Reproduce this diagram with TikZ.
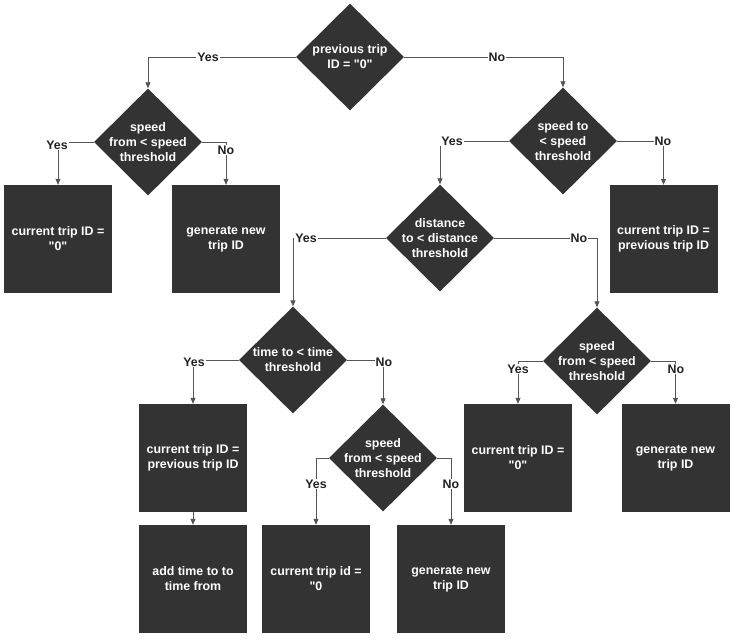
\documentclass[tikz,border=0pt]{standalone}
\usepackage{fontspec}
\setmainfont{Liberation Sans}[Ligatures=TeXOff]
\usetikzlibrary{shapes.geometric,arrows.meta}
\definecolor{boxfill}{HTML}{333333}
\definecolor{linecol}{HTML}{555555}
\definecolor{lblcol}{HTML}{222222}
\newcommand\dqt{\symbol{34}}
\begin{document}
\begin{tikzpicture}[x=1pt,y=-1pt,
  dia/.style={diamond,fill=boxfill,minimum width=108pt,minimum height=107pt,inner sep=0pt},
  dtext/.style={text=white,font=\bfseries\fontsize{12.4}{15}\selectfont,align=center,inner sep=0pt},
  stepbox/.style={rectangle,fill=boxfill,minimum width=108pt,minimum height=108pt,inner sep=0pt,text=white,font=\bfseries\fontsize{12.4}{15}\selectfont,align=center},
  conn/.style={draw=linecol,line width=0.8pt,-{Triangle[length=6pt,width=5pt]}},
  lbl/.style={fill=white,text=lblcol,font=\bfseries\fontsize{12.4}{14}\selectfont,inner sep=1pt}]
\useasboundingbox (0,0) rectangle (734,638);

% diamonds
\node[dia] (d1) at (350,57) {};
\node[dia] (d2) at (148,142) {};
\node[dia] (d3) at (563,141) {};
\node[dia] (d4) at (440,238) {};
\node[dia] (d5) at (293,360) {};
\node[dia] (d6) at (597,361) {};
\node[dia] (d7) at (383,458) {};

\node[dtext] (d1t) at (d1) {previous trip\\ID = \dqt0\dqt};
\node[dtext] (d2t) at (d2) {speed\\from < speed\\threshold};
\node[dtext] (d3t) at (d3) {speed to\\< speed\\threshold};
\node[dtext] (d4t) at (d4) {distance\\to < distance\\threshold};
\node[dtext] (d5t) at (d5) {time to < time\\threshold};
\node[dtext] (d6t) at (d6) {speed\\from < speed\\threshold};
\node[dtext] (d7t) at (d7) {speed\\from < speed\\threshold};

% boxes
\node[stepbox] (b1) at (58,239) {current trip ID =\\\dqt0\dqt};
\node[stepbox] (b2) at (226,239) {generate new\\trip ID};
\node[stepbox] (b3) at (663.5,239) {current trip ID =\\previous trip ID};
\node[stepbox] (b4) at (193,458) {current trip ID =\\previous trip ID};
\node[stepbox] (b5) at (193,579) {add time to to\\time from};
\node[stepbox] (b6) at (316,579) {current trip id =\\\dqt0};
\node[stepbox] (b7) at (451,579) {generate new\\trip ID};
\node[stepbox] (b8) at (518,458) {current trip ID =\\\dqt0\dqt};
\node[stepbox] (b9) at (675.5,458) {generate new\\trip ID};

% connectors
\draw[conn] (d1.west) -| (d2.north);
\draw[conn] (d1.east) -| (d3.north);
\draw[conn] (d2.west) -| (b1.north);
\draw[conn] (d2.east) -| (b2.north);
\draw[conn] (d3.west) -| (d4.north);
\draw[conn] (d3.east) -| (b3.north);
\draw[conn] (d4.west) -| (d5.north);
\draw[conn] (d4.east) -| (d6.north);
\draw[conn] (d5.west) -| (b4.north);
\draw[conn] (d5.east) -| (d7.north);
\draw[conn] (d7.west) -| (b6.north);
\draw[conn] (d7.east) -| (b7.north);
\draw[conn] (d6.west) -| (b8.north);
\draw[conn] (d6.east) -| (b9.north);
\draw[conn] (b4.south) -- (b5.north);

% labels
\node[lbl] (l1) at (208,57) {Yes};
\node[lbl] (l2) at (497,57) {No};
\node[lbl] (l3) at (57,145) {Yes};
\node[lbl] (l4) at (226,150) {No};
\node[lbl] (l5) at (452,141) {Yes};
\node[lbl] (l6) at (663,141) {No};
\node[lbl] (l7) at (306,238) {Yes};
\node[lbl] (l8) at (579,238) {No};
\node[lbl] (l9) at (194,362) {Yes};
\node[lbl] (l10) at (384,362) {No};
\node[lbl] (l11) at (518,369) {Yes};
\node[lbl] (l12) at (676,369) {No};
\node[lbl] (l13) at (316,484) {Yes};
\node[lbl] (l14) at (451,484) {No};
\end{tikzpicture}
\end{document}
